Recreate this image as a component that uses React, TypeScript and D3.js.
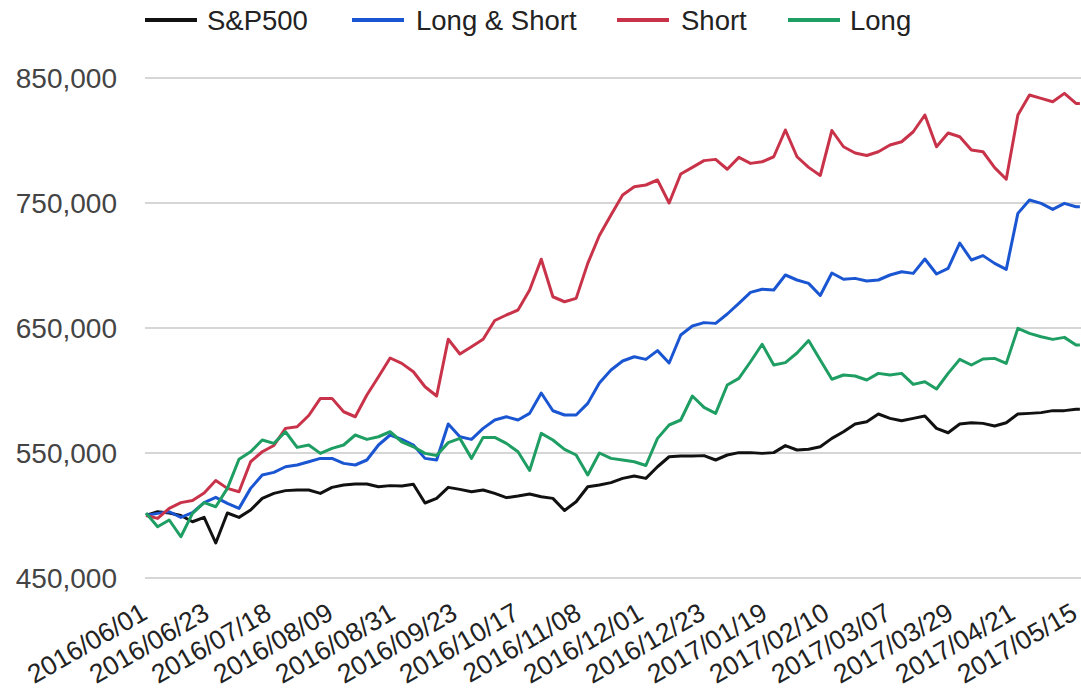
import React from "react";
import * as d3 from "d3";

// x sample positions: trading-day index (every 3rd trading day, plus the last day)
const sampleDays: number[] = [...Array.from({ length: 81 }, (_, k) => k * 3), 241];
const lastDay = 241;

const tickDays: number[] = [0, 16, 32, 48, 64, 80, 96, 112, 128, 144, 160, 176, 192, 208, 224, 240];
const tickLabels: string[] = [
  "2016/06/01", "2016/06/23", "2016/07/18", "2016/08/09", "2016/08/31", "2016/09/23",
  "2016/10/17", "2016/11/08", "2016/12/01", "2016/12/23", "2017/01/19", "2017/02/10",
  "2017/03/07", "2017/03/29", "2017/04/21", "2017/05/15",
];

const yTicks: number[] = [450000, 550000, 650000, 750000, 850000];

const sp500: number[] = [
  500000, 503000, 502000, 500000, 495000, 498500, 478000, 502000, 498500, 504400,
  513700, 517700, 519900, 520400, 520400, 517700, 522500, 524400, 525200, 525200,
  523000, 523900, 523600, 525000, 510000, 513700, 522500, 520900, 519000, 520400,
  517700, 514300, 515600, 517200, 515000, 513700, 504000, 511000, 523000, 524400,
  526300, 529700, 531600, 529700, 539000, 547000, 547600, 547600, 547900, 544400,
  548400, 550300, 550300, 549700, 550300, 555900, 552400, 553000, 555000, 561700,
  567000, 573200, 575000, 581200, 577700, 575800, 577700, 579600, 569700, 566200,
  573200, 574200, 573700, 571600, 574200, 581200, 581700, 582300, 583900, 583900,
  585000, 585000,
];

const longShort: number[] = [
  500000, 501700, 503000, 498500, 502300, 510300, 514500, 509700, 505700, 521700,
  532400, 534500, 539000, 540400, 543000, 545700, 545700, 541700, 540400, 544400,
  556400, 564400, 560900, 556400, 545700, 544400, 573200, 563000, 560900, 569700,
  576400, 579000, 576400, 581700, 598000, 583800, 580400, 580400, 589700, 606000,
  616400, 623600, 627000, 624900, 631900, 622000, 644400, 651600, 654300, 653700,
  661200, 669700, 678500, 681000, 680400, 692400, 688400, 685700, 676000, 694000,
  689000, 689700, 687600, 688400, 692400, 695000, 693700, 705200, 693200, 697700,
  718000, 704400, 707900, 701700, 696900, 741700, 752400, 749700, 744900, 749700,
  747000, 747000,
];

const shortOnly: number[] = [
  500000, 497700, 505700, 510300, 512000, 518000, 528000, 521700, 519000, 543000,
  551000, 556000, 569700, 571000, 580000, 593700, 593700, 583000, 579000, 596400,
  611000, 626000, 621700, 615000, 603000, 595600, 641000, 629200, 635000, 641000,
  656000, 660400, 664400, 680400, 705000, 675000, 671000, 673700, 701700, 724000,
  740400, 756400, 763000, 764400, 768400, 750000, 773200, 778500, 783900, 784900,
  777000, 786500, 781700, 783000, 787000, 808400, 787000, 778500, 772000, 808000,
  795000, 790000, 788000, 791000, 796400, 799000, 807000, 820400, 795000, 806000,
  803000, 792400, 791000, 778300, 769000, 820400, 836400, 833700, 831000, 837700,
  829700, 829700,
];

const longOnly: number[] = [
  502000, 491000, 496400, 483000, 501700, 510300, 507000, 521700, 545000, 551000,
  560400, 557700, 567000, 554500, 556400, 549700, 553700, 556400, 564400, 560900,
  563000, 567000, 559000, 555000, 549700, 548000, 558300, 561700, 545700, 562500,
  562500, 557700, 551000, 536000, 565700, 560400, 552900, 548400, 532400, 550000,
  545700, 544400, 543000, 540000, 561700, 572400, 576400, 595600, 586500, 581700,
  604400, 609700, 623000, 637000, 620400, 622300, 630000, 640000, 624400, 609000,
  612400, 611600, 608400, 613700, 612400, 613700, 604900, 607000, 601200, 613700,
  624900, 620400, 625200, 625700, 621700, 649700, 645700, 643000, 640900, 642500,
  636400, 636400,
];

const seriesNames: string[] = ["S&P500", "Long & Short", "Short", "Long"];
const seriesColors: string[] = ["#111111", "#1a55d2", "#c9334a", "#1f9e63"];
const seriesData: number[][] = [sp500, longShort, shortOnly, longOnly];

const W = 1081;
const H = 691;
const FONT = "Arial, 'Liberation Sans', sans-serif";

export default function App() {
  const x = d3.scaleLinear().domain([0, lastDay]).range([146, 146 + lastDay * 3.875]);
  const y = d3.scaleLinear().domain([450000, 850000]).range([578, 78]);
  const fmt = d3.format(",");
  const line = d3
    .line<number>()
    .x((_, i) => x(sampleDays[i]))
    .y((d) => y(d));

  const legendLineX = [145, 352, 617, 788];
  const legendTextX = [207, 416, 681, 850];

  return (
    <svg
      width={W}
      height={H}
      style={{ position: "absolute", left: 0, top: 0, background: "#fff" }}
      fontFamily={FONT}
    >
      <defs>
        <clipPath id="plot">
          <rect x={140} y={40} width={W - 140} height={560} />
        </clipPath>
      </defs>
      {yTicks.map((t) => (
        <line key={t} x1={145} x2={W} y1={y(t)} y2={y(t)} stroke="#d6d6d6" strokeWidth={2} />
      ))}
      {yTicks.map((t) => (
        <text key={"l" + t} x={117} y={y(t)} dy="0.35em" textAnchor="end" fontSize={28} fill="#444">
          {fmt(t)}
        </text>
      ))}
      {tickDays.map((d, i) => (
        <text
          key={"x" + d}
          transform={`translate(${x(d) + 3},618) rotate(-30)`}
          textAnchor="end"
          fontSize={26.5}
          fill="#222"
        >
          {tickLabels[i]}
        </text>
      ))}
      <g clipPath="url(#plot)">
        {seriesData.map((s, i) => (
          <path
            key={seriesNames[i]}
            d={line(s) || ""}
            fill="none"
            stroke={seriesColors[i]}
            strokeWidth={3}
            strokeLinejoin="round"
          />
        ))}
      </g>
      {seriesNames.map((n, i) => (
        <g key={"lg" + n}>
          <line
            x1={legendLineX[i]}
            x2={legendLineX[i] + 52}
            y1={20}
            y2={20}
            stroke={seriesColors[i]}
            strokeWidth={4}
          />
          <text x={legendTextX[i]} y={20} dy="0.35em" fontSize={27.5} fill="#222">
            {n}
          </text>
        </g>
      ))}
    </svg>
  );
}
